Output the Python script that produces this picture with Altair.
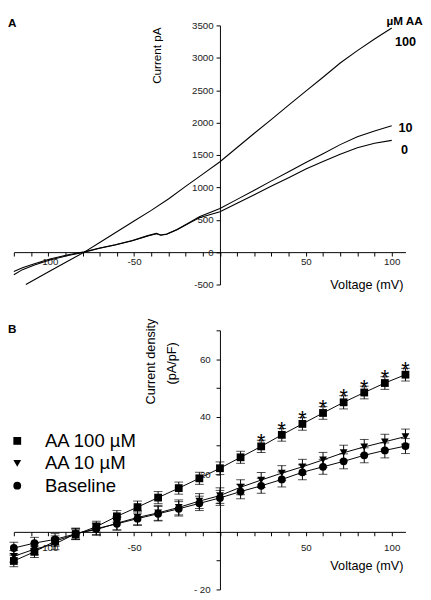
import altair as alt
import pandas as pd

# ---------------- Panel A: whole-cell current traces ----------------
vA_100 = [-113, -100, -90, -79, -70, -60, -50, -40, -30, -20, -10, 0, 10, 20, 30, 40, 50, 60, 70, 80, 90, 100]
iA_100 = [-500, -305, -160, 0, 150, 315, 480, 645, 820, 1015, 1205, 1395, 1615, 1835, 2050, 2270, 2485, 2700, 2920, 3110, 3290, 3460]

vA_low = [-120, -115, -108, -99, -89, -79, -70, -61, -51, -42, -37, -34.5, -31, -25, -17, -12, 0, 10, 20, 30, 40, 50, 60, 70, 80, 90, 100]
iA_10 = [-300, -240, -180, -105, -45, 5, 65, 115, 180, 255, 290, 265, 280, 350, 470, 545, 675, 815, 955, 1100, 1240, 1385, 1520, 1660, 1780, 1870, 1950]
iA_0 = [-350, -270, -200, -120, -55, 0, 60, 110, 175, 250, 285, 260, 275, 345, 460, 530, 625, 755, 885, 1020, 1150, 1285, 1400, 1510, 1610, 1680, 1725]

trace_labels = ["100", "10", "0"]
trace_label_v = [108.0, 108.0, 107.5]
trace_label_i = [3245, 1920, 1575]

# ---------------- Panel B: current density ----------------
volt_B = [-120, -108, -96, -84, -72, -60, -48, -36, -24, -12, 0, 12, 24, 36, 48, 60, 72, 84, 96, 108]
aa100 = [-10.1, -6.9, -3.2, -0.9, 1.8, 5.4, 8.6, 11.9, 15.2, 18.6, 22.1, 25.9, 29.7, 33.7, 37.5, 41.3, 45.0, 48.4, 51.7, 54.6]
aa100_err = [2.0, 2.0, 1.8, 1.8, 1.9, 2.0, 2.1, 2.1, 2.1, 2.1, 2.2, 2.1, 2.1, 2.2, 2.2, 2.2, 2.3, 2.2, 2.2, 2.2]
aa10 = [-8.5, -6.0, -4.2, -0.6, 0.8, 3.0, 5.0, 6.6, 8.5, 10.7, 12.6, 15.5, 18.0, 20.4, 22.6, 25.0, 27.5, 29.5, 31.3, 33.1]
aa10_err = [2.0, 2.0, 2.0, 1.9, 2.0, 2.3, 2.5, 2.6, 2.6, 2.6, 2.7, 2.6, 2.6, 2.6, 2.6, 2.6, 2.6, 2.6, 2.6, 2.6]
base = [-5.6, -3.9, -2.6, -0.7, 1.1, 2.8, 4.6, 6.3, 8.0, 9.9, 11.8, 14.0, 16.0, 18.2, 20.7, 22.6, 24.5, 26.6, 28.3, 29.8]
base_err = [2.0, 2.0, 2.0, 1.9, 2.0, 2.2, 2.4, 2.5, 2.5, 2.5, 2.6, 2.5, 2.6, 2.6, 2.6, 2.6, 2.6, 2.6, 2.6, 2.6]
star_volts = [24, 36, 48, 60, 72, 84, 96, 108]

series_names = ["AA 100 µM", "AA 10 µM", "Baseline"]
series_shapes = ["square", "triangle-down", "circle"]

# ---------------- layout constants ----------------
FONT = "Liberation Sans"
W, H = 402, 266
XDOM = [-120, 108]
YDOM_A = [-500, 3500]
YDOM_B = [-20, 70]
x0_px = (0 - XDOM[0]) / (XDOM[1] - XDOM[0]) * W
yA0_from_bottom = (0 - YDOM_A[0]) / (YDOM_A[1] - YDOM_A[0]) * H
yB0_from_bottom = (0 - YDOM_B[0]) / (YDOM_B[1] - YDOM_B[0]) * H


def px_text(txt, x, y, size=12, bold=False, align="left", angle=0):
    return alt.Chart(pd.DataFrame({"t": [txt]})).mark_text(
        font=FONT, fontSize=size, fontWeight="bold" if bold else "normal",
        align=align, baseline="middle", angle=angle, color="black"
    ).encode(x=alt.value(x), y=alt.value(y), text="t:N")


AX = dict(grid=False, tickSize=4, title=None, domainColor="black", tickColor="black",
          labelColor="#222", labelFont=FONT, labelFontSize=10, labelOverlap=False,
          labelFlush=False)

XLAB = "(datum.value % 50 == 0 && datum.value != 0) ? '' + datum.value : ''"

# ---------------- Panel A ----------------
xA_scale = alt.Scale(domain=XDOM, nice=False, zero=False)
yA_scale = alt.Scale(domain=YDOM_A, nice=False, zero=False)
xA_axis = alt.Axis(values=list(range(-120, 101, 10)), labelExpr=XLAB,
                   offset=-yA0_from_bottom, labelPadding=1, **AX)
yA_axis = alt.Axis(values=list(range(-500, 3501, 500)), labelExpr="'' + datum.value",
                   offset=-x0_px, labelPadding=3, **AX)

dfA = pd.concat([
    pd.DataFrame({"v": vA_100, "i": iA_100, "trace": "100"}),
    pd.DataFrame({"v": vA_low, "i": iA_10, "trace": "10"}),
    pd.DataFrame({"v": vA_low, "i": iA_0, "trace": "0"}),
])
linesA = alt.Chart(dfA).mark_line(color="black", strokeWidth=1.1).encode(
    x=alt.X("v:Q", scale=xA_scale, axis=xA_axis),
    y=alt.Y("i:Q", scale=yA_scale, axis=yA_axis), detail="trace:N")

dfLab = pd.DataFrame({"v": trace_label_v, "i": trace_label_i, "t": trace_labels})
labA = alt.Chart(dfLab).mark_text(font=FONT, fontSize=13, fontWeight="bold", align="center",
                                  baseline="middle", color="black").encode(
    x=alt.X("v:Q", scale=xA_scale, axis=xA_axis),
    y=alt.Y("i:Q", scale=yA_scale, axis=yA_axis), text="t:N")

panelA = alt.layer(
    linesA, labA,
    px_text("µM AA", 401, -4, size=12, bold=True, align="center"),
    px_text("A", -6, -2, size=12, bold=True),
    px_text("Current pA", 147, 31, size=12, angle=270, align="center"),
    px_text("Voltage (mV)", 400, 267, size=13, align="right"),
).properties(width=W, height=H)

# ---------------- Panel B ----------------
rows = []
for name, vals, errs in zip(series_names, [aa100, aa10, base], [aa100_err, aa10_err, base_err]):
    for v, m, e in zip(volt_B, vals, errs):
        rows.append({"v": v, "m": m, "lo": m - e, "hi": m + e, "series": name})
dfB = pd.DataFrame(rows)
dfCaps = pd.concat([
    dfB[["v", "lo", "series"]].rename(columns={"lo": "c"}),
    dfB[["v", "hi", "series"]].rename(columns={"hi": "c"}),
])
dfStar = dfB[(dfB.series == series_names[0]) & (dfB.v.isin(star_volts))]

xB_scale = alt.Scale(domain=XDOM, nice=False, zero=False)
yB_scale = alt.Scale(domain=YDOM_B, nice=False, zero=False)
xB_axis = alt.Axis(values=list(range(-120, 101, 10)), labelExpr=XLAB,
                   offset=-yB0_from_bottom, labelPadding=7, **AX)
yB_axis = alt.Axis(values=list(range(-20, 71, 10)),
                   labelExpr="datum.value == -20 ? '- 20' : ((datum.value == 60 || datum.value == 40 || datum.value == 20) ? '' + datum.value : '')",
                   offset=-x0_px, labelPadding=6, **AX)


def xb():
    return alt.X("v:Q", scale=xB_scale, axis=xB_axis)


def yb(field):
    return alt.Y(field, scale=yB_scale, axis=yB_axis)


baseB = alt.Chart(dfB)
linesB = baseB.mark_line(color="black", strokeWidth=1).encode(x=xb(), y=yb("m:Q"), detail="series:N")
errB = baseB.mark_rule(color="black", strokeWidth=1).encode(x=xb(), y=yb("lo:Q"), y2="hi:Q")
capsB = alt.Chart(dfCaps).mark_tick(orient="horizontal", size=9, thickness=1, color="black").encode(
    x=xb(), y=yb("c:Q"))
ptsB = baseB.mark_point(filled=True, color="black", size=64, opacity=1).encode(
    x=xb(), y=yb("m:Q"),
    shape=alt.Shape("series:N", scale=alt.Scale(domain=series_names, range=series_shapes),
                    legend=alt.Legend(orient="none", legendX=-6, legendY=417, title=None,
                                      padding=0, labelFont=FONT, labelFontSize=19,
                                      labelColor="black", symbolFillColor="black",
                                      symbolStrokeColor="black", symbolSize=64,
                                      symbolStrokeWidth=0, rowPadding=3, labelOffset=19)))
starsB = alt.Chart(dfStar).mark_text(text="*", font=FONT, fontSize=22, color="black",
                                     baseline="alphabetic", dy=9).encode(
    x=xb(), y=yb("hi:Q"))

panelB = alt.layer(
    linesB, errB, capsB, ptsB, starsB,
    px_text("B", -6, -1, size=12, bold=True),
    px_text("Current density", 141, 32, size=13, angle=270, align="center"),
    px_text("(pA/pF)", 162, 34, size=13, angle=270, align="center"),
    px_text("Voltage (mV)", 400, 242, size=13, align="right"),
).properties(width=W, height=H)

chart = alt.vconcat(panelA, panelB, spacing=26).properties(
    padding={"left": 0, "top": 0, "right": 0, "bottom": 0}
).configure_view(stroke=None)

chart.save("out.html", embed_options={"renderer": "svg", "actions": False})
